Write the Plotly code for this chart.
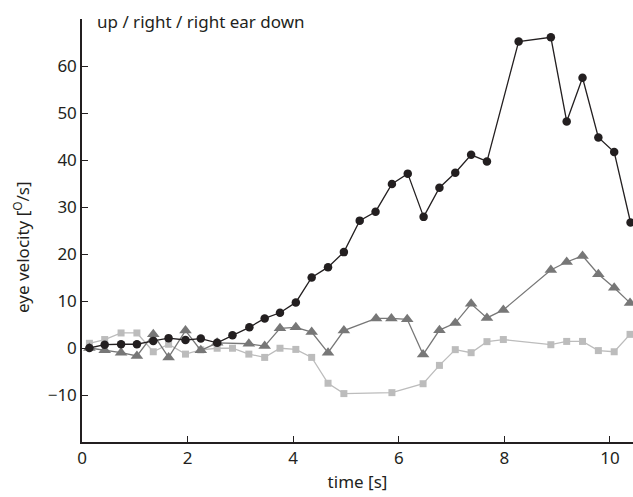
import plotly.graph_objects as go

# black circles
t_circle = [0.14, 0.43, 0.74, 1.04, 1.35, 1.64, 1.96, 2.25, 2.56, 2.85, 3.17, 3.46, 3.75, 4.05,
            4.35, 4.66, 4.96, 5.26, 5.56, 5.87, 6.17, 6.47, 6.77, 7.07, 7.37, 7.67, 8.27, 8.88,
            9.18, 9.48, 9.78, 10.08, 10.39]
v_circle = [0, 0.7, 0.8, 0.8, 1.5, 2.1, 1.7, 2.0, 1.1, 2.7, 4.4, 6.3, 7.5, 9.7,
            15.0, 17.2, 20.4, 27.1, 29.0, 34.9, 37.1, 27.9, 34.1, 37.3, 41.1, 39.7, 65.2, 66.1,
            48.2, 57.5, 44.8, 41.7, 26.7]

# dark grey triangles
t_tri = [0.14, 0.43, 0.74, 1.04, 1.35, 1.64, 1.96, 2.25, 2.56, 3.16, 3.46, 3.75, 4.05, 4.35,
         4.66, 4.96, 5.57, 5.86, 6.16, 6.46, 6.77, 7.07, 7.37, 7.67, 7.98, 8.88, 9.18, 9.48,
         9.78, 10.08, 10.38]
v_tri = [0, -0.5, -1.0, -1.7, 2.9, -2.0, 3.7, -0.5, 1.1, 0.9, 0.4, 4.2, 4.4, 3.4,
         -1.0, 3.7, 6.3, 6.3, 6.1, -1.4, 3.8, 5.3, 9.4, 6.4, 8.1, 16.6, 18.3, 19.6,
         15.7, 12.8, 9.6]

# light grey squares
t_sq = [0.14, 0.43, 0.74, 1.04, 1.35, 1.64, 1.96, 2.25, 2.56, 2.85, 3.16, 3.46, 3.75, 4.05,
        4.35, 4.66, 4.96, 5.87, 6.46, 6.77, 7.07, 7.37, 7.67, 7.98, 8.88, 9.18, 9.48, 9.78,
        10.08, 10.38]
v_sq = [1.0, 1.8, 3.2, 3.2, -0.8, 0.8, -1.3, -0.4, -0.05, -0.05, -1.3, -2.0, -0.05, -0.3,
        -2.0, -7.5, -9.7, -9.5, -7.6, -3.7, -0.35, -1.0, 1.35, 1.8, 0.7, 1.4, 1.4, -0.55,
        -0.8, 2.9]

x_ticks = [0, 2, 4, 6, 8, 10]
y_ticks = [-10, 0, 10, 20, 30, 40, 50, 60]
y_tick_text = ["\u221210", "0", "10", "20", "30", "40", "50", "60"]

FONT = "Noto Sans"
FS = 17

fig = go.Figure()
fig.add_trace(go.Scatter(x=t_sq, y=v_sq, mode="lines+markers",
                         line=dict(color="#bcbcbc", width=1.3),
                         marker=dict(symbol="square", size=7, color="#bcbcbc")))
fig.add_trace(go.Scatter(x=t_tri, y=v_tri, mode="lines+markers",
                         line=dict(color="#777777", width=1.3),
                         marker=dict(symbol="triangle-up", size=11, color="#777777")))
fig.add_trace(go.Scatter(x=t_circle, y=v_circle, mode="lines+markers",
                         line=dict(color="#231f20", width=1.3),
                         marker=dict(symbol="circle", size=8.5, color="#231f20")))

fig.update_layout(
    width=633, height=497,
    margin=dict(l=82, r=0, t=19, b=55),
    paper_bgcolor="white", plot_bgcolor="white",
    showlegend=False,
    font=dict(family=FONT, size=FS, color="#231f20"),
    xaxis=dict(range=[0, 10.436], tickvals=x_ticks, ticks="inside", ticklen=6,
               tickcolor="#231f20", showline=True, linecolor="#231f20", linewidth=1.5,
               showgrid=False, zeroline=False,
               title=dict(text="time [s]", standoff=8, font=dict(size=FS)),
               tickfont=dict(size=FS)),
    yaxis=dict(range=[-20, 70], tickvals=y_ticks, ticktext=y_tick_text, ticks="inside",
               ticklen=6, tickcolor="#231f20", showline=True, linecolor="#231f20",
               linewidth=1.5, showgrid=False, zeroline=False,
               tickfont=dict(size=FS)),
    annotations=[
        dict(text="up / right / right ear down", xref="paper", yref="paper",
             x=0.024, y=0.995, xanchor="left", yanchor="middle", showarrow=False,
             font=dict(size=FS)),
        dict(text="eye velocity [<sup>O</sup>/s]", xref="paper", yref="paper",
             x=-0.109, y=0.461, xanchor="center", yanchor="middle", textangle=-90,
             showarrow=False, font=dict(size=FS)),
    ],
)

fig.write_html("out.html")
